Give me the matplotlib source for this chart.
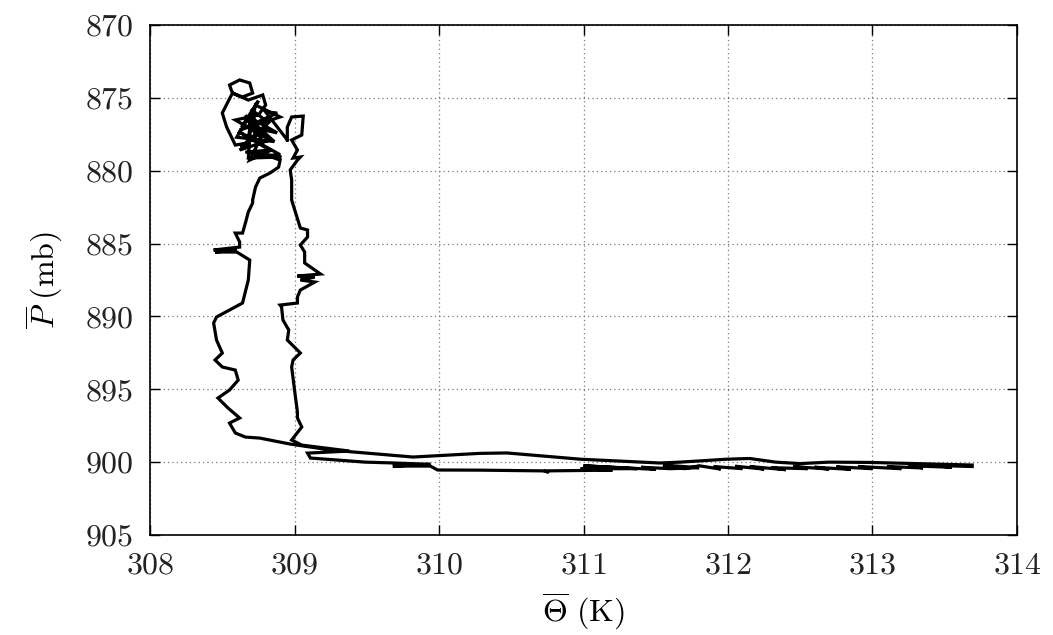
import matplotlib
matplotlib.use('Agg')
import matplotlib.pyplot as plt

plt.rcParams['font.family'] = 'cmr10'
plt.rcParams['mathtext.fontset'] = 'cm'
plt.rcParams['axes.formatter.use_mathtext'] = True

# mean potential temperature (K) and mean pressure (mb) along the trajectory
# cluster at the top
theta_cluster = [308.95, 308.80, 308.88, 308.62, 308.90, 308.73, 308.67, 308.59, 308.53, 308.50,
                 308.57, 308.55, 308.62, 308.69, 308.71, 308.64, 308.57, 308.68, 308.78, 308.80,
                 308.75, 308.59, 308.83, 308.62, 308.80, 308.69, 308.84, 308.66, 308.91, 308.68,
                 308.70, 308.88, 308.64, 308.75, 308.60, 308.86, 308.66, 308.73, 308.63, 308.82,
                 308.70, 308.78, 308.61, 308.90, 308.72, 308.84]
p_cluster = [877.89, 875.97, 876.04, 877.21, 876.31, 875.49, 878.10, 878.24, 877.00, 876.04,
             874.67, 874.12, 873.77, 873.98, 874.67, 874.94, 874.67, 875.15, 874.80, 875.49,
             876.18, 876.52, 877.89, 878.58, 877.07, 879.27, 878.58, 878.72, 879.06, 879.13,
             876.40, 877.40, 876.90, 875.20, 877.70, 878.00, 876.20, 877.50, 878.40, 876.70,
             875.80, 878.30, 877.30, 878.90, 879.00, 879.06]

# left branch going down
theta_left = [308.90, 308.89, 308.83, 308.76, 308.73, 308.71, 308.71, 308.68, 308.66, 308.64,
              308.59, 308.62, 308.62, 308.44, 308.60, 308.45, 308.60, 308.69, 308.68, 308.64,
              308.46, 308.44, 308.46, 308.50, 308.45, 308.50, 308.59, 308.61, 308.55, 308.47,
              308.54, 308.62, 308.55, 308.59, 308.66, 308.76]
p_left = [879.27, 879.75, 880.16, 880.50, 881.12, 882.01, 882.22, 882.83, 883.59, 884.28,
          884.28, 884.89, 885.24, 885.44, 885.44, 885.58, 885.58, 886.13, 887.50, 889.08,
          890.04, 890.45, 891.62, 892.51, 892.99, 893.47, 893.68, 894.37, 895.05, 895.60,
          896.29, 896.97, 897.32, 898.00, 898.28, 898.35]

# upper line going right
theta_upper = [308.97, 309.25, 309.82, 310.28, 310.47, 310.98, 311.53, 311.67, 311.99, 312.15,
               312.33, 312.50, 312.70, 312.98, 313.69]
p_upper = [898.76, 899.17, 899.65, 899.40, 899.37, 899.80, 900.06, 900.00, 899.80, 899.75,
           900.00, 900.10, 900.00, 900.02, 900.20]

# noisy return band going left, then the hairpin
theta_lower = [313.69, 313.40, 313.55, 313.25, 313.35, 313.10, 313.20, 312.90, 313.00, 312.75,
               312.85, 312.60, 312.70, 312.45, 312.55, 312.30, 312.40, 312.15, 312.25, 312.05,
               312.10, 311.90, 311.95, 311.80, 311.70, 311.55, 311.80, 311.60, 311.40, 311.50,
               311.00, 311.37, 310.98, 311.20, 310.75, 310.76, 310.72, 310.28, 309.99, 309.94,
               309.68, 309.94, 309.66, 309.49, 309.11, 309.09, 309.38, 309.05]
p_lower = [900.30, 900.22, 900.35, 900.25, 900.40, 900.30, 900.45, 900.30, 900.45, 900.32,
           900.50, 900.35, 900.48, 900.30, 900.45, 900.38, 900.52, 900.30, 900.48, 900.28,
           900.45, 900.30, 900.48, 900.25, 900.45, 900.20, 900.38, 900.45, 900.35, 900.50,
           900.25, 900.45, 900.45, 900.55, 900.60, 900.70, 900.60, 900.55, 900.54, 900.27,
           900.27, 900.15, 900.05, 900.00, 899.72, 899.38, 899.24, 898.83]

# right branch going up, then the small loop
theta_right = [308.98, 309.05, 309.02, 309.02, 309.00, 308.98, 308.99, 309.04, 308.95, 308.96,
               308.92, 308.91, 308.90, 309.02, 309.02, 309.04, 309.14, 309.04, 309.14, 309.02,
               309.18, 309.07, 309.07, 309.04, 309.09, 309.09, 309.04, 308.98, 308.98, 308.97,
               309.02, 309.04, 308.99, 309.02, 308.98, 309.05, 309.06, 308.98, 308.95, 308.95]
p_right = [898.48, 897.59, 896.97, 896.56, 895.05, 893.47, 892.99, 892.51, 891.62, 890.93,
           890.25, 889.35, 889.22, 889.08, 888.67, 888.19, 887.64, 887.50, 887.30, 887.23,
           887.09, 886.33, 885.58, 885.10, 884.55, 884.07, 883.93, 882.01, 880.64, 879.95,
           879.27, 879.06, 879.13, 878.58, 877.89, 877.55, 876.25, 876.31, 877.00, 877.89]

theta = theta_cluster + theta_left + theta_upper + theta_lower + theta_right
pres = p_cluster + p_left + p_upper + p_lower + p_right

fig = plt.figure(figsize=(10.53, 6.35), dpi=100)
ax = fig.add_axes([0.1425, 0.1575, 0.8233, 0.8031])

ax.plot(theta, pres, color='black', linewidth=2.3, solid_joinstyle='miter')

ax.set_xlim(308, 314)
ax.set_ylim(905, 870)
ax.set_xticks(range(308, 315))
ax.set_yticks(range(870, 906, 5))
ax.grid(True, linestyle=(0, (1, 2.5)), color='#777777', linewidth=0.9)
ax.tick_params(direction='in', length=7, width=1, top=True, right=True,
               labelsize=23, pad=12, labelcolor='#222222')
for s in ax.spines.values():
    s.set_linewidth(1.2)

ax.set_xlabel(r'$\overline{\Theta}\,\,(\mathrm{K})$', fontsize=23, labelpad=8)
ax.set_ylabel(r'$\overline{P}\,\,(\mathrm{mb})$', fontsize=23, labelpad=14)

fig.savefig('out.png', dpi=100)
